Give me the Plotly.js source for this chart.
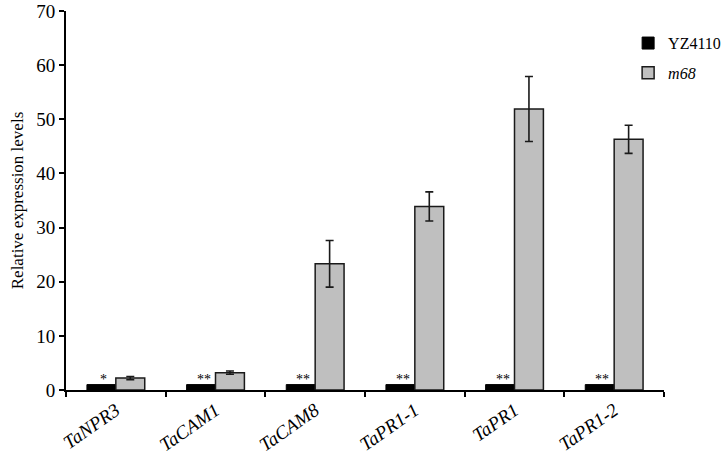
<!DOCTYPE html>
<html>
<head>
<meta charset="utf-8">
<script src="https://cdn.plot.ly/plotly-3.0.1.min.js"></script>
<style>
  html, body { margin: 0; padding: 0; background: #fff; }
  #chart { width: 728px; height: 456px; }
</style>
</head>
<body>
<div id="chart"></div>
<script>
// Genes on the x axis
const genes = ["TaNPR3", "TaCAM1", "TaCAM8", "TaPR1-1", "TaPR1", "TaPR1-2"];

// Relative expression (wild type set to 1)
const wildValues = [1, 1, 1, 1, 1, 1];
const mutantValues = [2.2, 3.2, 23.3, 33.9, 51.9, 46.3];
const mutantErrors = [0.3, 0.3, 4.3, 2.7, 6.0, 2.6];

// Significance marks above the wild type bars
const stars = ["*", "**", "**", "**", "**", "**"];

const serif = "Liberation Serif, Times New Roman, serif";

const traces = [
  {
    type: "bar",
    name: "YZ4110",
    legendgroup: "wt",
    x: genes,
    y: wildValues,
    marker: { color: "#000000", line: { color: "#000000", width: 1 } },
  },
  {
    type: "bar",
    name: "<i>m68</i>",
    legendgroup: "mut",
    x: genes,
    y: mutantValues,
    marker: { color: "#bfbfbf", line: { color: "#1a1a1a", width: 1.5 } },
    error_y: {
      type: "data",
      array: mutantErrors,
      visible: true,
      color: "#1a1a1a",
      thickness: 1.6,
      width: 4,
    },
  },
];

// Stars sit just over the black bars
const annotations = genes.map((g, i) => ({
  x: g,
  y: wildValues[i],
  xref: "x",
  yref: "y",
  text: stars[i],
  showarrow: false,
  xshift: -12,
  yanchor: "bottom",
  yshift: -4,
  font: { family: serif, size: 14, color: "#000" },
}));

const layout = {
  width: 728,
  height: 456,
  margin: { l: 66, r: 64, t: 11, b: 66, autoexpand: false },
  paper_bgcolor: "#fff",
  plot_bgcolor: "#fff",
  font: { family: serif, color: "#000" },
  barmode: "group",
  bargap: 0.42,
  bargroupgap: 0,
  showlegend: true,
  legend: {
    x: 0.94,
    y: 0.96,
    xanchor: "left",
    yanchor: "top",
    font: { family: serif, size: 16, color: "#000" },
    itemwidth: 30,
    tracegroupgap: 6,
    bgcolor: "rgba(0,0,0,0)",
  },
  xaxis: {
    type: "category",
    showline: true,
    linecolor: "#000",
    linewidth: 2,
    ticks: "outside",
    tickson: "boundaries",
    ticklen: 5,
    tickwidth: 2,
    tickcolor: "#000",
    tickangle: -35,
    tickfont: { family: serif, size: 19, style: "italic", color: "#000" },
    showgrid: false,
    zeroline: false,
  },
  yaxis: {
    range: [0, 70],
    dtick: 10,
    showline: true,
    linecolor: "#000",
    linewidth: 2,
    ticks: "outside",
    ticklen: 5,
    tickwidth: 2,
    tickcolor: "#000",
    tickfont: { family: serif, size: 19, color: "#000" },
    showgrid: false,
    zeroline: false,
    title: { text: "Relative expression levels", font: { family: serif, size: 17, color: "#000" }, standoff: 8 },
  },
  annotations: annotations,
};

Plotly.newPlot("chart", traces, layout, { staticPlot: true });
</script>
</body>
</html>
